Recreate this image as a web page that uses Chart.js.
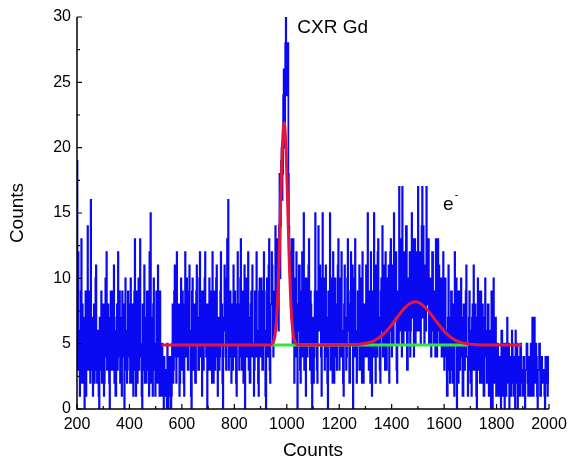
<!DOCTYPE html>
<html>
<head>
<meta charset="utf-8">
<script src="https://cdn.jsdelivr.net/npm/chart.js@4.4.0/dist/chart.umd.min.js"></script>
<style>
  body { margin: 0; background: #fff; }
  canvas { display: block; }
</style>
</head>
<body>
<canvas id="spectrum" width="569" height="464"></canvas>
<script>
// spectrum: one value every 2 channels, from 200 to 2000 (one row = 100 channels)
const channelStart = 200;
const channelStep = 2;
const counts = [
  19,3,12,5,6,1,3,9,13,2,8,4,2,7,0,6,9,1,5,8,14,3,4,9,7,2,16,5,3,7,1,6,8,2,6,10,11,3,2,6,5,1,0,7,7,3,9,2,4,8,
  6,1,2,8,10,4,12,3,4,8,7,2,0,6,9,3,5,9,3,7,11,2,6,1,1,7,8,3,12,5,4,9,2,6,7,1,9,4,5,8,0,5,10,3,6,2,3,9,8,4,
  5,2,10,4,2,8,7,1,4,9,13,3,1,6,9,2,6,10,3,7,13,4,5,1,0,8,8,3,11,2,4,7,2,9,9,3,6,1,12,5,15,2,7,4,1,8,10,3,5,1,
  4,9,8,2,11,4,6,1,9,3,3,1,5,2,2,0,4,1,1,3,3,0,5,2,0,4,2,1,4,0,1,5,8,2,3,9,11,4,6,2,12,5,4,8,8,1,2,7,10,3,
  5,9,7,2,1,8,12,4,5,10,9,3,3,7,11,5,6,1,0,9,10,3,4,8,8,2,2,9,11,5,7,3,3,10,12,4,5,9,1,6,9,3,6,10,12,5,4,8,0,7,
  8,3,10,4,3,9,6,2,12,5,2,8,9,3,5,10,11,4,1,7,7,3,4,9,12,5,8,2,0,7,6,11,10,4,3,8,13,5,16,3,5,9,9,4,2,8,7,3,11,5,
  4,9,6,2,1,8,12,5,8,3,5,10,13,4,3,8,9,2,6,11,0,7,10,4,4,9,12,3,7,2,2,8,9,4,11,5,5,1,3,9,8,4,12,6,6,2,1,9,10,5,
  4,10,9,3,3,8,12,5,6,1,0,9,10,4,5,11,13,3,2,8,8,12,11,5,4,9,9,6,14,7,8,13,12,9,6,14,18,10,14,19,20,16,18,24,26,20,22,28,30,25,
  24,28,28,18,14,12,12,10,7,13,11,5,13,9,2,10,9,4,12,7,0,8,6,11,11,3,2,9,8,12,4,7,15,3,7,10,1,6,10,4,5,11,13,6,3,9,8,2,0,7,
  7,2,4,9,15,5,9,3,2,8,14,6,6,11,10,4,1,7,15,5,5,10,3,8,11,4,7,2,0,9,9,5,15,3,4,10,6,2,12,7,2,9,10,4,8,3,5,11,13,6,
  3,10,9,4,12,6,6,2,1,8,11,5,7,3,4,10,13,6,8,2,2,9,12,5,5,11,0,7,10,4,13,6,6,2,3,9,9,5,11,3,4,10,7,2,12,6,2,8,8,4,
  5,11,10,4,15,7,3,9,8,2,12,6,1,8,9,4,15,10,6,2,11,7,4,12,13,5,7,3,2,9,10,6,14,4,5,11,9,3,12,7,3,10,8,5,11,2,6,12,13,7,
  4,11,10,5,15,8,7,12,12,3,2,9,9,5,17,10,6,13,13,4,17,8,5,12,11,6,8,14,14,3,3,10,10,6,12,4,6,11,15,7,9,13,4,10,13,5,7,12,11,6,
  17,8,6,12,12,5,9,14,17,7,14,9,5,11,11,6,17,10,8,13,13,5,6,10,10,4,7,12,12,6,5,9,9,4,13,7,4,10,13,6,11,5,6,10,10,4,4,9,12,5,
  3,9,10,4,6,1,1,7,11,3,7,2,4,9,9,3,2,8,8,1,12,5,5,10,0,6,9,2,6,9,3,7,10,4,7,1,1,8,8,3,5,9,11,4,4,1,2,7,9,3,
  6,2,1,7,8,3,11,5,3,8,7,1,0,6,10,3,5,9,2,7,9,2,4,8,7,1,1,6,10,4,6,2,3,8,8,1,2,6,5,0,9,3,0,5,10,2,4,7,7,1,
  2,5,5,1,1,4,4,2,0,6,6,1,3,5,2,0,5,3,1,4,7,2,3,5,0,3,4,1,2,6,5,2,1,4,3,0,6,2,2,5,0,3,4,1,1,5,5,2,3,1,
  2,4,4,1,0,3,3,5,5,2,1,4,4,1,2,5,3,1,7,2,1,4,7,3,2,5,4,1,0,3,3,5,5,1,1,4,4,2,2,3,3,1,0,4,4,2,3,1,4,2,
  3
];

// fitted curve (two peaks on a flat background)
const fitX = [524,600,700,800,900,930,940,950,955,960,965,970,975,980,985,990,
  995,1000,1005,1010,1015,1020,1025,1030,1040,1050,1100,1200,1250,1300,1330,1360,
  1390,1420,1450,1480,1490,1510,1540,1570,1600,1630,1660,1700,1750,1800,1897];
const fitY = [4.9,4.9,4.9,4.9,4.9,4.9,4.93,5.19,5.65,6.61,8.35,11.0,14.5,18.1,20.8,21.9,
  20.8,18.1,14.5,11.0,8.35,6.61,5.65,5.19,4.93,4.9,4.9,4.9,4.91,5.01,5.20,5.58,
  6.19,6.98,7.74,8.17,8.2,8.08,7.51,6.71,5.96,5.42,5.12,4.95,4.9,4.9,4.9];

// background line
const baseX = [945, 1690];
const baseY = [4.9, 4.9];

const xTicks = [200, 400, 600, 800, 1000, 1200, 1400, 1600, 1800, 2000];
const yTicks = [0, 5, 10, 15, 20, 25, 30];

const labels = [
  { text: "CXR Gd", x: 1040, y: 28.8 },
  { text: "e", x: 1596, y: 15.2, sup: "-" }
];

const spectrumPts = counts.map((c, i) => ({ x: channelStart + i * channelStep, y: c }));
const fitPts = fitX.map((x, i) => ({ x: x, y: fitY[i] }));
const basePts = baseX.map((x, i) => ({ x: x, y: baseY[i] }));

const font = "'Liberation Sans', Arial, sans-serif";

const axesPlugin = {
  id: "axesPlugin",
  afterDraw(chart) {
    const ctx = chart.ctx;
    const xs = chart.scales.x;
    const ys = chart.scales.y;
    const a = chart.chartArea;
    ctx.save();
    ctx.strokeStyle = "#000";
    ctx.lineWidth = 1.5;
    ctx.beginPath();
    ctx.moveTo(a.left, a.top);
    ctx.lineTo(a.left, a.bottom);
    ctx.lineTo(a.right, a.bottom);
    ctx.stroke();

    ctx.lineWidth = 1.2;
    ctx.beginPath();
    for (let v = 200; v <= 2000; v += 100) {
      const px = xs.getPixelForValue(v);
      const len = v % 200 === 0 ? 5 : 3;
      ctx.moveTo(px, a.bottom);
      ctx.lineTo(px, a.bottom - len);
    }
    for (let v = 0; v <= 30; v += 2.5) {
      const py = ys.getPixelForValue(v);
      const len = v % 5 === 0 ? 5 : 3;
      ctx.moveTo(a.left, py);
      ctx.lineTo(a.left + len, py);
    }
    ctx.stroke();

    ctx.fillStyle = "#000";
    ctx.font = "19px " + font;
    ctx.textAlign = "center";
    ctx.textBaseline = "middle";
    ctx.fillText("Counts", (a.left + a.right) / 2, 451);
    ctx.save();
    ctx.translate(18, (a.top + a.bottom) / 2);
    ctx.rotate(-Math.PI / 2);
    ctx.fillText("Counts", 0, 0);
    ctx.restore();

    ctx.textAlign = "left";
    ctx.textBaseline = "alphabetic";
    labels.forEach(l => {
      const px = xs.getPixelForValue(l.x);
      const py = ys.getPixelForValue(l.y);
      ctx.font = "19px " + font;
      ctx.fillText(l.text, px, py);
      if (l.sup) {
        const w = ctx.measureText(l.text).width;
        ctx.font = "11px " + font;
        ctx.fillText(l.sup, px + w + 1, py - 12);
      }
    });
    ctx.restore();
  }
};

new Chart(document.getElementById("spectrum"), {
  type: "line",
  data: {
    datasets: [
      {
        data: fitPts,
        borderColor: "#e3173c",
        borderWidth: 3,
        pointRadius: 0,
        cubicInterpolationMode: "monotone",
        fill: false
      },
      {
        data: basePts,
        borderColor: "#33e633",
        borderWidth: 3,
        pointRadius: 0,
        fill: false
      },
      {
        data: spectrumPts,
        borderColor: "#0a0af2",
        borderWidth: 1.7,
        pointRadius: 0,
        stepped: true,
        fill: false
      }
    ]
  },
  options: {
    responsive: false,
    animation: false,
    layout: { padding: { left: 0, right: 20, top: 17, bottom: 0 } },
    plugins: { legend: { display: false }, tooltip: { enabled: false } },
    scales: {
      x: {
        type: "linear",
        min: 200,
        max: 2000,
        afterFit(s) { s.height = 55; s.paddingLeft = 0; s.paddingRight = 0; },
        afterBuildTicks(s) { s.ticks = xTicks.map(v => ({ value: v })); },
        grid: { display: false, drawTicks: false },
        border: { display: false },
        ticks: {
          color: "#000", padding: 6, font: { size: 16, family: font },
          maxRotation: 0, autoSkip: false, callback: v => String(v)
        }
      },
      y: {
        type: "linear",
        min: 0,
        max: 30,
        afterFit(s) { s.width = 77; s.paddingTop = 0; s.paddingBottom = 0; },
        afterBuildTicks(s) { s.ticks = yTicks.map(v => ({ value: v })); },
        grid: { display: false, drawTicks: false },
        border: { display: false },
        ticks: { color: "#000", padding: 6, font: { size: 16, family: font }, callback: v => String(v) }
      }
    }
  },
  plugins: [axesPlugin]
});
</script>
</body>
</html>
